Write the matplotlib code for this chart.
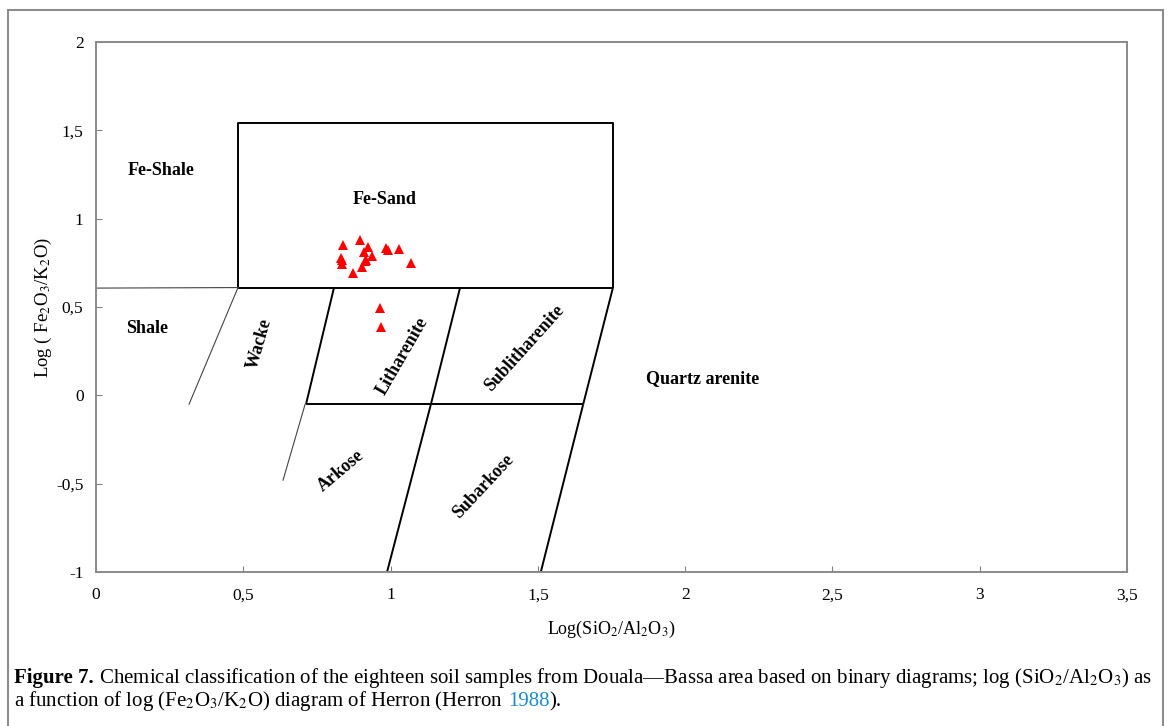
import numpy as np
import matplotlib
matplotlib.use("Agg")
from matplotlib import pyplot as plt
from matplotlib.patches import Rectangle

plt.rcParams['font.family'] = ['Liberation Serif', 'DejaVu Serif']
plt.rcParams['mathtext.fontset'] = 'stix'

# sample values: log(SiO2/Al2O3) and log(Fe2O3/K2O)
log_si_al = [0.840, 0.897, 0.925, 0.911, 0.936, 0.985, 0.992, 1.029, 0.831,
             0.834, 0.834, 0.913, 0.902, 0.872, 1.069, 0.965, 0.969, 0.918]
log_fe_k = [0.853, 0.877, 0.839, 0.811, 0.788, 0.832, 0.823, 0.830, 0.779,
            0.764, 0.741, 0.760, 0.726, 0.694, 0.749, 0.496, 0.387, 0.768]

x_ticks = [0, 0.5, 1, 1.5, 2, 2.5, 3, 3.5]
y_ticks = [-1, -0.5, 0, 0.5, 1, 1.5, 2]

# Herron (1988) field boundaries, (x list, y list)
bold_lines = [
    ([0.482, 0.482, 1.755, 1.755], [0.61, 1.54, 1.54, 0.61]),   # Fe-Sand box
    ([0.482, 1.755], [0.61, 0.61]),
    ([0.808, 0.713], [0.61, -0.05]),
    ([1.236, 1.137], [0.61, -0.05]),
    ([1.755, 1.654], [0.61, -0.05]),
    ([0.713, 1.654], [-0.05, -0.05]),
    ([1.137, 0.988], [-0.05, -1.0]),
    ([1.654, 1.51], [-0.05, -1.0]),
    ([0.988, 1.51], [-1.0, -1.0]),
]
thin_lines = [
    ([0.0, 0.482], [0.607, 0.61]),
    ([0.482, 0.316], [0.61, -0.05]),
    ([0.71, 0.635], [-0.05, -0.48]),
]

# field names: text, x, y, rotation
fields = [
    ("Fe-Shale", 0.221, 1.273, 0),
    ("Fe-Sand", 0.978, 1.109, 0),
    ("Shale", 0.173, 0.379, 0),
    ("Wacke", 0.557, 0.294, 74),
    ("Litharenite", 1.039, 0.224, 60),
    ("Sublitharenite", 1.453, 0.266, 48),
    ("Quartz arenite", 2.058, 0.096, 0),
    ("Arkose", 0.832, -0.43, 40),
    ("Subarkose", 1.314, -0.515, 47),
]

fig = plt.figure(figsize=(11.7, 7.26), dpi=100)
fig.patches.append(Rectangle((8 / 1170, -0.05), 1155 / 1170, 1.05 - 10 / 726,
                             transform=fig.transFigure, fill=False,
                             edgecolor='#8c8c8c', linewidth=1.5))

ax = fig.add_axes([96 / 1170, 1 - 572 / 726, 1031 / 1170, 530 / 726])
ax.set_xlim(0, 3.5)
ax.set_ylim(-1, 2)

for xs, ys in bold_lines:
    ax.plot(xs, ys, color='black', linewidth=1.4, solid_capstyle='butt')
for xs, ys in thin_lines:
    ax.plot(xs, ys, color='#444444', linewidth=0.8)

ax.plot(log_si_al, log_fe_k, '^', color='#ff0000', markersize=7,
        markeredgewidth=0, clip_on=False)

for name, tx, ty, rot in fields:
    ax.text(tx, ty, name, fontsize=13, fontweight='bold', rotation=rot,
            ha='center', va='center', rotation_mode='anchor')

ax.set_xticks(x_ticks)
ax.set_yticks(y_ticks)
ax.set_xticklabels([f"{v:g}".replace('.', ',') for v in x_ticks])
ax.set_yticklabels([f"{v:g}".replace('.', ',') for v in y_ticks])
ax.tick_params(direction='in', length=4, width=0.8, color='#808080',
               labelsize=12.5, pad=11)
ax.tick_params(axis='y', pad=9)
for sp in ax.spines.values():
    sp.set_color('#8a8a8a')
    sp.set_linewidth(1.4)

ax.set_xlabel("Log(SiO$_2$/Al$_2$O$_3$)", fontsize=13, labelpad=11)
ax.set_ylabel("Log ( Fe$_2$O$_3$/K$_2$O)", fontsize=13.5, labelpad=1.5)

# caption, written run by run so the bold and blue parts follow on
renderer = fig.canvas.get_renderer()
cap_size = 15
space_px = 0.25 * cap_size * fig.dpi / 72


def caption_line(runs, x0, y0):
    x = x0
    for s, kw in runs:
        t = fig.text(x, y0, s, fontsize=cap_size, ha='left', va='baseline',
                     transform=None, **kw)
        bb = t.get_window_extent(renderer=renderer)
        x = bb.x1 + (space_px if s.endswith(' ') else 0)
    return x


caption_line([("Figure 7.", dict(fontweight='bold')),
              (" Chemical classification of the eighteen soil samples from "
               "Douala\u2014Bassa area based on binary diagrams; "
               "log (SiO$_2$/Al$_2$O$_3$) as", {})],
             14, 726 - 683)
caption_line([("a function of log (Fe$_2$O$_3$/K$_2$O) diagram of Herron (Herron ", {}),
              ("1988", dict(color='#1a8ccf')),
              (").", {})],
             14, 726 - 706)

fig.savefig("out.png", dpi=100)
